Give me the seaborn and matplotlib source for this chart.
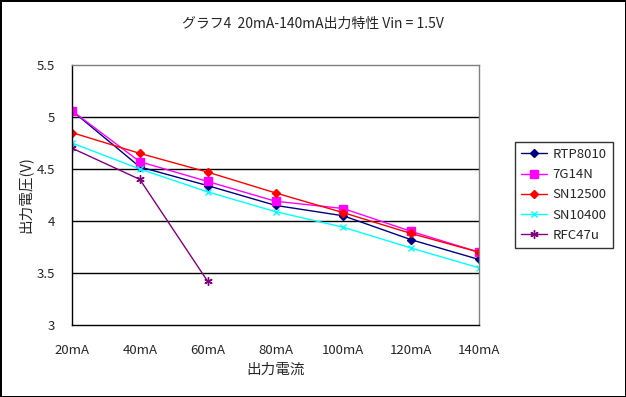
import pandas as pd
import matplotlib
matplotlib.use('Agg')
import matplotlib.pyplot as plt
import seaborn as sns

# data
currents = ['20mA', '40mA', '60mA', '80mA', '100mA', '120mA', '140mA']
rtp8010 = [5.06, 4.52, 4.34, 4.15, 4.05, 3.82, 3.63]
g7g14n = [5.06, 4.57, 4.38, 4.19, 4.12, 3.90, 3.70]
sn12500 = [4.85, 4.65, 4.47, 4.27, 4.08, 3.88, 3.70]
sn10400 = [4.75, 4.50, 4.28, 4.09, 3.94, 3.74, 3.55]
rfc47u = [4.70, 4.40, 3.42]

series = {
    'RTP8010': rtp8010,
    '7G14N': g7g14n,
    'SN12500': sn12500,
    'SN10400': sn10400,
    'RFC47u': rfc47u,
}

rows = []
for name, vals in series.items():
    for i, v in enumerate(vals):
        rows.append({'series': name, 'pos': i, 'voltage': v})
df = pd.DataFrame(rows)

colors = {'RTP8010': '#000080', '7G14N': '#FF00FF', 'SN12500': '#FF0000',
          'SN10400': '#00FFFF', 'RFC47u': '#800080'}
markers = {'RTP8010': 'D', '7G14N': 's', 'SN12500': 'D',
           'SN10400': 'x', 'RFC47u': (6, 2, 0)}
msizes = {'RTP8010': 4.5, '7G14N': 6, 'SN12500': 4.5, 'SN10400': 5, 'RFC47u': 6}

sns.set_style('white')
plt.rcParams['font.family'] = ['Noto Sans CJK JP', 'DejaVu Sans']

fig = plt.figure(figsize=(6.26, 3.97), dpi=100)
fig.patch.set_edgecolor('black')
fig.patch.set_linewidth(2)
ax = fig.add_axes([72 / 626, 1 - 325 / 397, 407 / 626, 260 / 397])

for name in series:
    sub = df[df['series'] == name]
    sns.lineplot(data=sub, x='pos', y='voltage', ax=ax, color=colors[name],
                 marker=markers[name], markersize=msizes[name],
                 markeredgecolor=colors[name], markeredgewidth=1,
                 linewidth=1, label=name)

ax.set_xlim(0, 6)
ax.set_ylim(3, 5.5)
ax.set_yticks([3, 3.5, 4, 4.5, 5, 5.5])
ax.set_yticklabels(['3', '3.5', '4', '4.5', '5', '5.5'])
ax.set_xticks(range(len(currents)))
ax.set_xticklabels(currents)
for y in [3.5, 4, 4.5, 5]:
    ax.axhline(y, color='black', linewidth=1, zorder=0)

ax.tick_params(axis='x', direction='in', length=4, pad=14, labelsize=9.5, color='black')
ax.tick_params(axis='y', direction='out', length=4, pad=8, labelsize=9.5, color='black')
ax.spines['left'].set_color('black')
ax.spines['bottom'].set_color('black')
ax.spines['top'].set_color('gray')
ax.spines['right'].set_color('gray')
for s in ax.spines.values():
    s.set_linewidth(1)

ax.set_xlabel('出力電流', fontsize=10.5, labelpad=4)
ax.set_ylabel('出力電圧(V)', fontsize=10.5, labelpad=3)
fig.text(0.5, 1 - 24 / 397, 'グラフ4  20mA-140mA出力特性 Vin = 1.5V',
         ha='center', va='center', fontsize=10)

leg = ax.legend(loc='upper left', bbox_to_anchor=(515 / 626, 1 - 142 / 397),
                bbox_transform=fig.transFigure, frameon=True, fancybox=False,
                edgecolor='black', fontsize=9.5, handlelength=2.0,
                handletextpad=0.4, borderpad=0.45, labelspacing=0.55,
                borderaxespad=0)
leg.get_frame().set_linewidth(1)

fig.savefig('out.png', dpi=100, facecolor='white', edgecolor='black')
